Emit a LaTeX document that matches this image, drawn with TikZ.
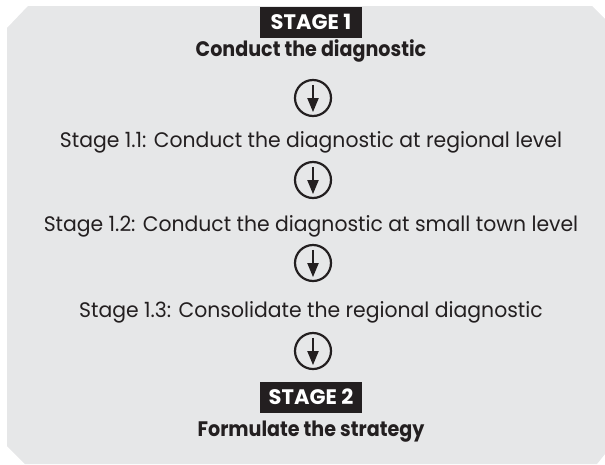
\documentclass[tikz,border=0pt]{standalone}
\usepackage{fontspec}
\setmainfont{Poppins}[FakeStretch=0.97, BoldFeatures={FakeStretch=0.91}]
\newfontfamily\stagefont{Poppins}[FakeStretch=1.0]
\usetikzlibrary{arrows.meta}
\definecolor{bggray}{HTML}{E6E7E8}
\definecolor{ink}{HTML}{231F20}
\tikzset{
  plain/.style={anchor=base, text=ink, font=\fontsize{21}{24}\selectfont, inner sep=0pt},
  boldline/.style={anchor=base, text=ink, font=\fontsize{21}{24}\selectfont\bfseries, inner sep=0pt},
  stagebox/.style={fill=ink, text=white, font=\fontsize{21}{24}\selectfont\stagefont\bfseries, minimum width=102pt, minimum height=31pt, inner sep=0pt},
  flowcirc/.style={circle, draw=ink, line width=2.2pt, minimum size=36pt, inner sep=0pt},
  flowarrow/.style={draw=ink, line width=2pt, -{Triangle[length=14pt,width=11pt]}}
}
\begin{document}
\begin{tikzpicture}[x=1pt,y=-1pt]
\useasboundingbox (0,0) rectangle (605,464);
\fill[bggray] (7,28) -- (28,6) -- (592,6) -- (605,19) -- (605,454) -- (597,464) -- (25,464) -- (7,446) -- cycle;
\node[stagebox] (s1) at (311,22) {STAGE 1};
\node[boldline] (t1) at (311,56) {Conduct the diagnostic};
\node[flowcirc] (c1) at (313,98) {};
\node[plain] (t11) at (311,147) {Stage 1.1: Conduct the diagnostic at regional level};
\node[flowcirc] (c2) at (313,180) {};
\node[plain] (t12) at (311,231) {Stage 1.2: Conduct the diagnostic at small town level};
\node[flowcirc] (c3) at (313,263) {};
\node[plain] (t13) at (311,317) {Stage 1.3: Consolidate the regional diagnostic};
\node[flowcirc] (c4) at (313,351) {};
\node[stagebox] (s2) at (311,397) {STAGE 2};
\node[boldline] (t2) at (311,436) {Formulate the strategy};
\foreach \c in {c1,c2,c3,c4}{
  \draw[flowarrow] ([yshift=-6pt]\c.north) -- ([yshift=5pt]\c.south);
}
\end{tikzpicture}
\end{document}
